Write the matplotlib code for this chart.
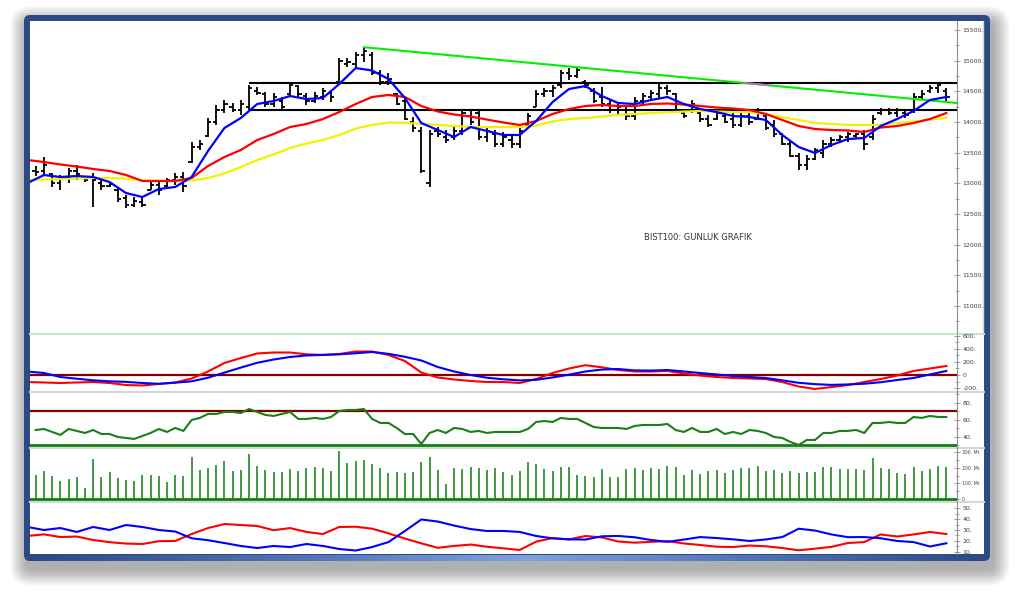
import numpy as np
import matplotlib.pyplot as plt
from matplotlib.patches import FancyBboxPatch, Rectangle
from matplotlib.colors import LinearSegmentedColormap

W, H = 1015, 594

# ================= data =================
# daily OHLC, one bar per session
high = [13280, 13430, 13170, 13140, 13250, 13300, 13120, 13170, 13060, 13020,
        12940, 12810, 12780, 12780, 13020, 13060, 13090, 13170, 13190, 13670,
        13710, 14070, 14280, 14360, 14310, 14360, 14600, 14570, 14490, 14470,
        14410, 14640, 14600, 14470, 14490, 14550, 14520, 15040, 15040, 15140,
        15210, 15140, 14850, 14800, 14470, 14410, 14080, 13920, 13870, 13920,
        13870, 13920, 14200, 14200, 14200, 13900, 13870, 13840, 13790, 13900,
        14150, 14520, 14550, 14600, 14850, 14880, 14880, 14690, 14550, 14570,
        14360, 14330, 14250, 14410, 14470, 14520, 14640, 14600, 14470, 14160,
        14360, 14160, 14110, 14200, 14160, 14160, 14150, 14160, 14230, 14150,
        14030, 13820, 13710, 13500, 13460, 13580, 13710, 13760, 13790, 13840,
        13820, 13870, 14110, 14230, 14230, 14230, 14200, 14470, 14520, 14600,
        14640, 14550]
low = [13120, 13140, 12940, 12890, 13010, 13050, 13020, 12610, 12890, 12940,
       12700, 12600, 12610, 12620, 12890, 12810, 12940, 12970, 12860, 13330,
       13540, 13760, 13950, 14150, 14160, 14110, 14200, 14440, 14250, 14250,
       14200, 14440, 14410, 14280, 14310, 14360, 14330, 14640, 14900, 14900,
       14980, 14770, 14600, 14600, 14280, 14030, 13840, 13170, 12940, 13760,
       13660, 13710, 13790, 13950, 13710, 13670, 13590, 13590, 13580, 13580,
       13900, 14240, 14410, 14410, 14550, 14690, 14720, 14550, 14310, 14240,
       14150, 14110, 14030, 14030, 14280, 14360, 14390, 14440, 14160, 14070,
       14150, 14000, 13920, 14030, 13980, 13900, 13920, 13950, 14030, 13870,
       13760, 13630, 13430, 13220, 13220, 13380, 13410, 13590, 13660, 13670,
       13740, 13540, 13710, 14110, 14110, 14080, 14070, 14150, 14360, 14470,
       14470, 14330]
opens = [13200, 13200, 13150, 13000, 13080, 13200, 13100, 13100, 13000, 12960,
         12900, 12760, 12650, 12700, 12900, 12980, 12950, 13050, 13100, 13350,
         13600, 13780, 14000, 14200, 14250, 14200, 14250, 14500, 14450, 14300,
         14350, 14450, 14580, 14430, 14350, 14400, 14480, 14650, 14950, 14950,
         15100, 15100, 14800, 14650, 14450, 14350, 14000, 13850, 13000, 13850,
         13750, 13750, 13850, 14100, 14150, 13750, 13800, 13650, 13700, 13650,
         13950, 14250, 14450, 14500, 14600, 14800, 14750, 14650, 14500, 14400,
         14300, 14200, 14200, 14100, 14350, 14400, 14450, 14550, 14450, 14150,
         14200, 14150, 14050, 14050, 14100, 14050, 13950, 14100, 14050, 14100,
         13950, 13800, 13650, 13450, 13300, 13400, 13500, 13650, 13700, 13750,
         13780, 13800, 13750, 14150, 14200, 14150, 14150, 14200, 14400, 14500,
         14550, 14500]
closes = [13180, 13300, 13000, 13100, 13200, 13150, 13060, 13050, 12950, 12990,
          12750, 12650, 12720, 12650, 12980, 12900, 13050, 13100, 12950, 13600,
          13650, 14000, 14200, 14300, 14200, 14300, 14550, 14480, 14300, 14400,
          14250, 14600, 14450, 14350, 14420, 14500, 14400, 15000, 14980, 15100,
          15150, 14800, 14650, 14700, 14300, 14050, 13900, 13200, 13800, 13800,
          13700, 13850, 14150, 14000, 13750, 13850, 13650, 13750, 13650, 13850,
          14100, 14450, 14500, 14550, 14800, 14750, 14850, 14600, 14350, 14300,
          14200, 14250, 14100, 14350, 14420, 14480, 14550, 14500, 14200, 14100,
          14300, 14050, 13950, 14150, 14000, 13950, 14100, 14000, 14200, 13900,
          13800, 13650, 13450, 13300, 13400, 13550, 13650, 13700, 13750, 13800,
          13800, 13650, 14050, 14200, 14150, 14200, 14120, 14400, 14450, 14550,
          14600, 14400]

# moving averages, read every second session
ma_x = np.arange(-1, 112, 2)
ma_fast = [13006, 13136, 13104, 13120, 13104, 13022, 12843, 12778, 12908, 12941,
           13104, 13528, 13903, 14066, 14294, 14343, 14424, 14375, 14392, 14620,
           14880, 14840, 14701, 14392, 13984, 13870, 13756, 13919, 13854, 13789,
           13789, 14017, 14326, 14538, 14587, 14424, 14310, 14294, 14359, 14408,
           14294, 14212, 14163, 14098, 14082, 14033, 13789, 13593, 13495, 13626,
           13723, 13740, 13935, 14049, 14180, 14359, 14408]
ma_mid = [13381, 13348, 13308, 13275, 13234, 13202, 13137, 13039, 13039, 13039,
          13088, 13283, 13430, 13544, 13707, 13805, 13919, 13968, 14049, 14163,
          14294, 14408, 14441, 14408, 14261, 14172, 14123, 14090, 14041, 13992,
          13952, 14017, 14131, 14212, 14261, 14278, 14261, 14261, 14294, 14302,
          14286, 14261, 14237, 14220, 14196, 14131, 14033, 13935, 13886, 13870,
          13862, 13837, 13911, 13935, 13984, 14049, 14147]
ma_slow = [13055, 13063, 13071, 13080, 13088, 13088, 13076, 13047, 13039, 13039,
           13047, 13088, 13161, 13267, 13381, 13471, 13577, 13650, 13707, 13789,
           13894, 13952, 13992, 13987, 13968, 13952, 13935, 13919, 13919, 13919,
           13919, 13943, 14009, 14049, 14066, 14090, 14115, 14131, 14147, 14159,
           14170, 14180, 14172, 14163, 14163, 14131, 14082, 14033, 13984, 13968,
           13952, 13952, 13952, 13984, 14009, 14041, 14066]

# horizontal band and falling trend line
band_start = 26
band_top, band_bottom = 14636, 14196
trend_x = [40, 112.3]
trend_y = [15220, 14310]

# MACD panel
macd = [-108, -115, -123, -115, -108, -123, -154, -161, -138, -115,
        -54, 54, 185, 261, 331, 346, 346, 318, 308, 323,
        361, 361, 308, 215, 38, -38, -69, -92, -108, -108,
        -123, -62, 31, 100, 151, 118, 77, 54, 54, 62,
        23, -8, -31, -46, -54, -62, -108, -177, -215, -185,
        -154, -108, -62, -8, 62, 100, 138]
macd_signal = [54, 31, -31, -57, -82, -97, -106, -123, -135, -118,
               -97, -42, 37, 114, 188, 238, 277, 300, 309, 318,
               334, 354, 325, 280, 223, 123, 54, 0, -42, -66,
               -83, -74, -38, 5, 54, 83, 92, 71, 68, 77,
               54, 31, 8, -15, -31, -46, -82, -120, -141, -152,
               -145, -134, -111, -77, -46, 8, 62]

# RSI, one value per session
rsi = [48.2, 49.4, 45.9, 42.4, 49.4, 47.1, 44.7, 48.2, 43.5, 43.5,
       40.0, 38.8, 37.7, 41.2, 44.7, 49.4, 45.9, 50.6, 47.1, 60.0,
       62.4, 67.1, 67.1, 69.4, 69.4, 68.2, 72.9, 69.4, 65.9, 64.7,
       67.1, 69.4, 61.2, 61.2, 62.4, 61.2, 63.5, 70.6, 71.8, 71.8,
       72.9, 61.2, 56.5, 56.5, 50.6, 43.5, 43.5, 31.8, 44.7, 48.2,
       44.7, 50.6, 49.4, 45.9, 47.1, 44.7, 45.9, 45.9, 45.9, 45.9,
       49.4, 57.6, 58.8, 57.6, 62.4, 61.2, 61.2, 56.5, 51.8, 50.6,
       50.6, 50.6, 49.4, 52.9, 54.1, 54.1, 54.1, 55.3, 48.2, 45.9,
       50.6, 45.9, 45.9, 49.4, 43.5, 45.9, 43.5, 48.2, 47.1, 44.7,
       40.0, 38.8, 34.1, 30.6, 36.5, 36.5, 44.7, 44.7, 47.1, 47.1,
       48.2, 44.7, 56.5, 56.5, 57.6, 56.5, 56.5, 63.5, 62.4, 64.7,
       63.5, 63.5]
rsi_upper, rsi_lower = 70, 30

# volume (Mr), one value per session
volume = [155, 183, 150, 118, 131, 140, 69, 258, 144, 172,
          137, 125, 114, 155, 157, 150, 110, 155, 150, 269,
          189, 202, 222, 244, 179, 189, 293, 211, 189, 172,
          176, 192, 179, 198, 206, 202, 182, 312, 232, 244,
          250, 224, 198, 166, 172, 169, 174, 240, 270, 185,
          95, 200, 195, 205, 200, 190, 200, 172, 155, 181,
          237, 224, 196, 179, 206, 204, 153, 146, 144, 192,
          140, 142, 192, 198, 189, 198, 196, 211, 206, 155,
          189, 163, 181, 189, 170, 189, 198, 198, 213, 181,
          185, 170, 179, 166, 174, 176, 204, 204, 192, 196,
          192, 189, 264, 202, 192, 170, 163, 204, 179, 196,
          211, 206]

# directional indicators
di_blue = [32.8, 30.0, 31.8, 28.2, 32.8, 30.0, 34.6, 32.8, 30.0, 28.6,
           22.4, 20.6, 18.0, 15.3, 13.4, 15.3, 14.3, 17.1, 15.3, 12.5,
           11.1, 14.3, 18.9, 29.1, 39.7, 37.8, 34.1, 30.9, 29.1, 29.1,
           28.2, 24.5, 22.3, 21.4, 21.2, 24.2, 24.5, 23.3, 20.8, 19.1,
           21.2, 23.5, 22.6, 21.4, 19.9, 21.3, 23.5, 31.2, 29.5, 25.9,
           23.4, 23.5, 22.4, 19.9, 18.9, 14.8, 17.8]
di_red = [24.5, 26.0, 23.5, 24.0, 20.8, 18.8, 17.5, 17.1, 19.7, 19.9,
          26.3, 31.8, 35.5, 34.6, 33.7, 29.8, 31.8, 28.2, 26.3, 32.8,
          33.0, 31.2, 26.9, 22.1, 17.7, 13.6, 15.3, 16.6, 14.6, 13.1,
          11.6, 19.3, 22.6, 21.3, 24.5, 23.2, 19.4, 18.3, 19.1, 19.8,
          17.6, 16.2, 14.6, 14.3, 15.7, 15.0, 13.4, 11.3, 12.8, 14.5,
          18.0, 18.9, 25.9, 24.0, 25.9, 28.2, 26.3]

title_text = "BIST100: GUNLUK GRAFIK"

# ================= figure and frame =================
fig = plt.figure(figsize=(W / 100, H / 100), dpi=100)
fig.patch.set_facecolor('white')

bg = fig.add_axes([0, 0, 1, 1], zorder=0)
bg.axis('off')

# soft drop shadow
for r in range(1, 18):
    bg.add_patch(FancyBboxPatch((24 + 3 - r, 15 + 8 - r), 966 + 2 * r, 546 + 2 * r,
                                boxstyle="round,pad=0,rounding_size=%d" % (r + 5),
                                fc='black', ec='none', alpha=0.02, zorder=1))
# blue frame
bg.add_patch(FancyBboxPatch((24, 15), 966, 546, boxstyle="round,pad=0,rounding_size=6",
                            fc='#2C4A85', ec='none', zorder=2))
bg.add_patch(Rectangle((30, 21), 954, 533, fc='white', ec='none', zorder=3))
grad_cmap = LinearSegmentedColormap.from_list(
    'frame', [(0, '#2C4A85'), (0.3, '#5476BA'), (0.52, '#7FA2DA'),
              (0.75, '#5274BA'), (1, '#2C4A85')])
bg.imshow(np.linspace(0, 1, 300)[np.newaxis, :], extent=(30, 984, 561, 555),
          cmap=grad_cmap, aspect='auto', zorder=4)

# panel separators
bg.plot([30, 984], [333.5, 333.5], color='#C6E4C6', lw=1.5, zorder=5)
bg.plot([983, 983], [21, 334], color='#C6E4C6', lw=1.0, zorder=5)
for yy in (391.5, 447.5, 501.5):
    bg.plot([30, 984], [yy, yy], color='#D6D6D6', lw=1.5, zorder=5)
bg.text(698, 237, title_text, fontsize=6, color='#333333', ha='center', va='center',
        zorder=6)
bg.set_xlim(0, W)
bg.set_ylim(H, 0)


def panel(top, bottom, ylim, ticks, labels, minor, size=4.5, pad=2):
    ax = fig.add_axes([30 / W, 1 - bottom / H, (957 - 30) / W, (bottom - top) / H], zorder=2)
    ax.patch.set_alpha(0)
    ax.set_xlim(-0.7, 112.3)
    ax.set_ylim(*ylim)
    for s in ('top', 'bottom', 'left'):
        ax.spines[s].set_visible(False)
    ax.spines['right'].set_color('#8C8C8C')
    ax.spines['right'].set_linewidth(0.8)
    ax.yaxis.tick_right()
    ax.set_xticks([])
    ax.set_yticks(ticks)
    ax.set_yticklabels(labels)
    ax.set_yticks(minor, minor=True)
    ax.tick_params(axis='y', which='major', direction='inout', length=4, width=0.6,
                   colors='#8C8C8C', labelcolor='#404040', labelsize=size, pad=pad)
    ax.tick_params(axis='y', which='minor', direction='inout', length=2.5, width=0.5,
                   colors='#8C8C8C')
    return ax


idx = np.arange(len(high))

# ---- price panel ----
price_ticks = [11000, 11500, 12000, 12500, 13000, 13500, 14000, 14500, 15000, 15500]
ax1 = panel(21, 333, (10561, 15647), price_ticks, ["%d." % t for t in price_ticks],
            np.arange(10750, 15600, 500))
ax1.hlines([band_top, band_bottom], band_start, 112.3, color='black', lw=1.5, zorder=2)
ax1.vlines(idx, low, high, color='black', lw=1.3, zorder=3)
ax1.hlines(opens, idx - 0.4, idx, color='black', lw=1.3, zorder=3)
ax1.hlines(closes, idx, idx + 0.4, color='black', lw=1.3, zorder=3)
ax1.plot(ma_x, ma_slow, color='#F2F200', lw=1.6, zorder=4)
ax1.plot(ma_x, ma_mid, color='#FF0000', lw=1.6, zorder=4)
ax1.plot(ma_x, ma_fast, color='#0000FF', lw=1.6, zorder=5)
ax1.plot(trend_x, trend_y, color='#00F000', lw=1.5, zorder=4)
glow_x = np.array([86.4, 89.5])
ax1.plot(glow_x, np.interp(glow_x, trend_x, trend_y), color='#FF40FF', lw=1.5,
         alpha=0.7, zorder=4)

# ---- MACD panel ----
ax2 = panel(335, 391, (-246, 615), [-200, 0, 200, 400, 600],
            ["-200.", "0", "200.", "400.", "600."], [-100, 100, 300, 500])
ax2.axhline(0, color='#800000', lw=1.6, zorder=2)
ax2.plot(ma_x, macd, color='#FF0000', lw=1.5, zorder=3)
ax2.plot(ma_x, macd_signal, color='#0000FF', lw=1.5, zorder=3)

# ---- RSI panel ----
ax3 = panel(392, 447, (28.2, 92.9), [40, 60, 80], ["40.", "60.", "80."], [30, 50, 70, 90])
ax3.axhline(rsi_upper, color='#800000', lw=1.6, zorder=2)
ax3.axhline(rsi_lower, color='#108010', lw=2.0, zorder=2)
ax3.plot(idx, rsi, color='#1A7F1A', lw=1.5, zorder=3)

# ---- volume panel ----
ax4 = panel(448, 501, (-13, 329), [0, 100, 200, 300],
            ["0", "100. Mr", "200. Mr", "300. Mr"], [50, 150, 250], size=3.3, pad=1.5)
ax4.vlines(idx, 0, volume, color='#108010', lw=1.1)
ax4.axhline(0, color='#108010', lw=2.0)

# ---- DMI panel ----
ax5 = panel(502, 554, (7.9, 55.8), [10, 20, 30, 40, 50],
            ["10.", "20.", "30.", "40.", "50."], [15, 25, 35, 45])
ax5.plot(ma_x, di_red, color='#FF0000', lw=1.5)
ax5.plot(ma_x, di_blue, color='#0000FF', lw=1.5)

fig.savefig("out.png", dpi=100)
